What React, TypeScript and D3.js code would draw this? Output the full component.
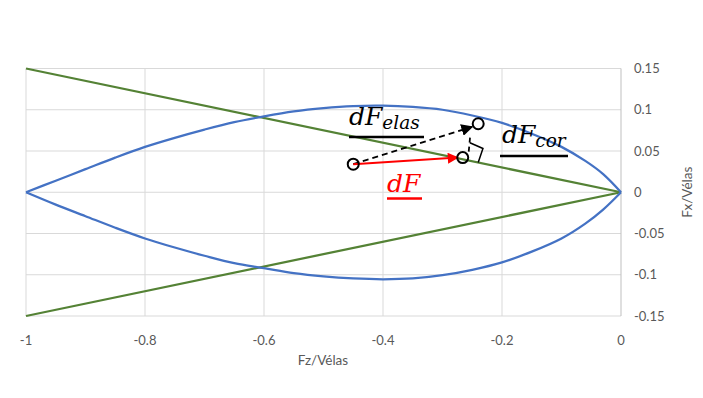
import React, { useEffect, useRef } from "react";
import * as d3 from "d3";

// Blue envelope, upper and lower branches (Fz/Vélas -> Fx/Vélas)
const upperX = [-1, -0.95, -0.9, -0.85, -0.8, -0.75, -0.7, -0.65, -0.6, -0.55, -0.5, -0.45, -0.4, -0.35, -0.3, -0.25, -0.2, -0.15, -0.1, -0.06, -0.03, 0];
const upperY = [0, 0.014, 0.028, 0.042, 0.055, 0.066, 0.076, 0.085, 0.092, 0.098, 0.102, 0.1045, 0.105, 0.1035, 0.1, 0.093, 0.084, 0.071, 0.055, 0.038, 0.022, 0];
const lowerX = [-1, -0.95, -0.9, -0.85, -0.8, -0.75, -0.7, -0.65, -0.6, -0.55, -0.5, -0.45, -0.4, -0.35, -0.3, -0.25, -0.2, -0.15, -0.1, -0.06, -0.03, 0];
const lowerY = [0, -0.015, -0.029, -0.043, -0.056, -0.067, -0.077, -0.086, -0.092, -0.098, -0.102, -0.1045, -0.1055, -0.1045, -0.1005, -0.094, -0.085, -0.072, -0.056, -0.038, -0.021, 0];

// Green limit lines
const greenUpper: [number, number][] = [[-1, 0.15], [0, 0]];
const greenLower: [number, number][] = [[-1, -0.15], [0, 0]];

// Annotation points (data coordinates)
const ptStart: [number, number] = [-0.45, 0.034];
const ptMid: [number, number] = [-0.266, 0.042];
const ptEnd: [number, number] = [-0.24, 0.083];
const rightAngle: [number, number][] = [[-0.254, 0.06], [-0.232, 0.053], [-0.24, 0.036]];

const xTicks = [-1, -0.8, -0.6, -0.4, -0.2, 0];
const yTicks = [-0.15, -0.1, -0.05, 0, 0.05, 0.1, 0.15];

const App: React.FC = () => {
  const ref = useRef<SVGSVGElement | null>(null);

  useEffect(() => {
    const svg = d3.select(ref.current);
    svg.selectAll("*").remove();

    const width = 703, height = 398;
    const left = 26, right = 621, top = 68.5, bottom = 316;
    const font = "Lato, 'Open Sans', sans-serif";

    const x = d3.scaleLinear().domain([-1, 0]).range([left, right]);
    const y = d3.scaleLinear().domain([-0.15, 0.15]).range([bottom, top]);

    svg.append("rect").attr("width", width).attr("height", height).attr("fill", "#fff");

    const defs = svg.append("defs");
    defs.append("marker").attr("id", "ahBlack").attr("viewBox", "0 0 10 10").attr("refX", 9).attr("refY", 5)
      .attr("markerWidth", 12).attr("markerHeight", 12).attr("markerUnits", "userSpaceOnUse").attr("orient", "auto")
      .append("path").attr("d", "M0,0L10,5L0,10Z").attr("fill", "#000");
    defs.append("marker").attr("id", "ahRed").attr("viewBox", "0 0 10 10").attr("refX", 9).attr("refY", 5)
      .attr("markerWidth", 12).attr("markerHeight", 11).attr("markerUnits", "userSpaceOnUse").attr("orient", "auto")
      .append("path").attr("d", "M0,0L10,5L0,10Z").attr("fill", "#f00");

    // grid
    const grid = svg.append("g").attr("stroke", "#d9d9d9").attr("stroke-width", 1);
    xTicks.slice(0, -1).forEach((t) => {
      grid.append("line").attr("x1", x(t)).attr("x2", x(t)).attr("y1", top).attr("y2", bottom);
    });
    yTicks.forEach((t) => {
      grid.append("line").attr("x1", left).attr("x2", right).attr("y1", y(t)).attr("y2", y(t));
    });
    // vertical axis at x=0
    svg.append("line").attr("x1", x(0)).attr("x2", x(0)).attr("y1", top).attr("y2", bottom)
      .attr("stroke", "#bfbfbf").attr("stroke-width", 1);

    // tick labels
    svg.append("g").selectAll("text").data(xTicks).enter().append("text")
      .attr("x", (d) => x(d)).attr("y", 345).attr("text-anchor", "middle")
      .attr("font-family", font).attr("font-size", 13).attr("fill", "#595959")
      .text((d) => String(d));
    svg.append("g").selectAll("text").data(yTicks).enter().append("text")
      .attr("x", 634).attr("y", (d) => y(d) + 4.5).attr("text-anchor", "start")
      .attr("font-family", font).attr("font-size", 13).attr("fill", "#595959")
      .text((d) => String(d));

    // axis titles
    svg.append("text").attr("x", 323).attr("y", 365).attr("text-anchor", "middle")
      .attr("font-family", font).attr("font-size", 13.5).attr("fill", "#595959").text("Fz/Vélas");
    svg.append("text").attr("transform", `translate(692,${y(0)}) rotate(-90)`).attr("text-anchor", "middle")
      .attr("font-family", font).attr("font-size", 13.5).attr("fill", "#595959").text("Fx/Vélas");

    // green lines
    const line = d3.line<[number, number]>().x((d) => x(d[0])).y((d) => y(d[1]));
    [greenUpper, greenLower].forEach((g) => {
      svg.append("path").attr("d", line(g)).attr("fill", "none").attr("stroke", "#548235").attr("stroke-width", 2.25);
    });

    // blue envelope
    const smooth = d3.line<[number, number]>().x((d) => x(d[0])).y((d) => y(d[1])).curve(d3.curveCatmullRom);
    const up = upperX.map((v, i) => [v, upperY[i]] as [number, number]);
    const lo = lowerX.map((v, i) => [v, lowerY[i]] as [number, number]);
    [up, lo].forEach((b) => {
      svg.append("path").attr("d", smooth(b)).attr("fill", "none").attr("stroke", "#4472c4").attr("stroke-width", 2.25);
    });

    // annotations
    const ann = svg.append("g");
    ann.append("line").attr("x1", x(ptStart[0])).attr("y1", y(ptStart[1]))
      .attr("x2", x(ptEnd[0]) - 6).attr("y2", y(ptEnd[1]) + 3)
      .attr("stroke", "#000").attr("stroke-width", 1.75).attr("stroke-dasharray", "6,4")
      .attr("marker-end", "url(#ahBlack)");
    ann.append("line").attr("x1", x(ptMid[0]) + 6).attr("y1", y(ptMid[1]) - 6)
      .attr("x2", x(ptEnd[0]) - 8).attr("y2", y(ptEnd[1]) + 12)
      .attr("stroke", "#000").attr("stroke-width", 1.75).attr("stroke-dasharray", "5,4");
    ann.append("line").attr("x1", x(ptStart[0])).attr("y1", y(ptStart[1]))
      .attr("x2", x(ptMid[0]) - 5).attr("y2", y(ptMid[1]))
      .attr("stroke", "#f00").attr("stroke-width", 2).attr("marker-end", "url(#ahRed)");
    ann.append("path").attr("d", line(rightAngle)).attr("fill", "none").attr("stroke", "#000").attr("stroke-width", 1.5);
    [ptStart, ptMid, ptEnd].forEach((p) => {
      ann.append("circle").attr("cx", x(p[0])).attr("cy", y(p[1])).attr("r", 5.5)
        .attr("fill", "none").attr("stroke", "#000").attr("stroke-width", 2);
    });

    // math labels
    const serif = "'DejaVu Serif', 'Liberation Serif', serif";
    const label = (tx: number, ty: number, sub: string, color: string, ulx1: number, ulx2: number, uly: number) => {
      const t = svg.append("text").attr("x", tx).attr("y", ty).attr("font-family", serif)
        .attr("font-style", "italic").attr("fill", color);
      t.append("tspan").attr("font-size", 25).text("dF");
      if (sub) t.append("tspan").attr("font-size", 18.5).attr("dy", 4).text(sub);
      svg.append("line").attr("x1", ulx1).attr("x2", ulx2).attr("y1", uly).attr("y2", uly)
        .attr("stroke", color).attr("stroke-width", 2.5);
    };
    label(349, 125, "elas", "#000", 349, 424, 137);
    label(502, 143, "cor", "#000", 500, 568, 156);
    label(387, 192, "", "#f00", 387, 422, 198.5);
  }, []);

  return <svg ref={ref} width={703} height={398} style={{ position: "absolute", left: 0, top: 0 }}></svg>;
};

export default App;
